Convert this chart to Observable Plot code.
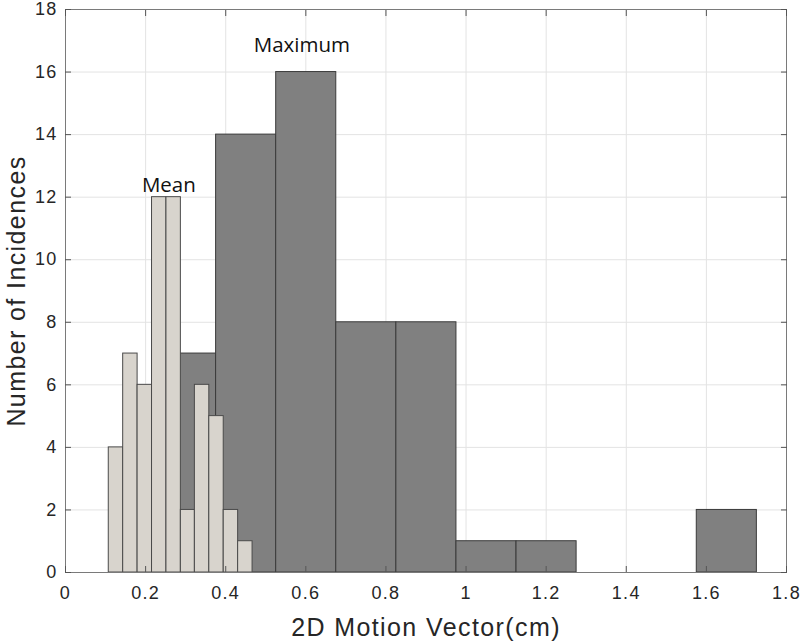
<!DOCTYPE html>
<html><head><meta charset="utf-8">
<script src="https://cdn.jsdelivr.net/npm/d3@7"></script>
<script src="https://cdn.jsdelivr.net/npm/@observablehq/plot@0.6"></script>
<style>
html,body{margin:0;padding:0;background:#fff;}
#chart svg{display:block;}
#chart g[aria-label="x-axis tick label"] text,
#chart g[aria-label="y-axis tick label"] text{font-size:18px !important;letter-spacing:1.3px;fill:#262626;}
#chart g[aria-label="x-axis label"] text,
#chart g[aria-label="y-axis label"] text{font-size:25px !important;letter-spacing:1.4px;fill:#262626;}
</style></head><body><div id="chart"></div>
<script>
// Maximum 2D motion vector histogram (dark bars)
const darkEdges = [0.226, 0.376, 0.526, 0.676, 0.826, 0.976, 1.126, 1.276, 1.426, 1.576, 1.726];
const darkCounts = [7, 14, 16, 8, 8, 1, 1, 0, 0, 2];
// Mean 2D motion vector histogram (light bars)
const lightEdges = [0.108, 0.144, 0.180, 0.216, 0.252, 0.288, 0.323, 0.359, 0.395, 0.431, 0.467];
const lightCounts = [4, 7, 6, 12, 12, 2, 6, 5, 2, 1];
// Axis ticks
const xTicks = [0, 0.2, 0.4, 0.6, 0.8, 1, 1.2, 1.4, 1.6, 1.8];
const yTicks = [0, 2, 4, 6, 8, 10, 12, 14, 16, 18];
// Annotations
const noteLabels = ["Mean", "Maximum"];
const noteX = [0.258, 0.590];
const noteY = [12.16, 16.63];

const darkBins = darkCounts.map((c, i) => ({x1: darkEdges[i], x2: darkEdges[i + 1], count: c})).filter(d => d.count > 0);
const lightBins = lightCounts.map((c, i) => ({x1: lightEdges[i], x2: lightEdges[i + 1], count: c})).filter(d => d.count > 0);
const notes = noteLabels.map((t, i) => ({text: t, x: noteX[i], y: noteY[i]}));
const fmt = d3.format("~g");

const chart = Plot.plot({
  width: 800,
  height: 643,
  marginLeft: 65,
  marginRight: 14,
  marginTop: 9,
  marginBottom: 71,
  style: {fontFamily: "'Liberation Sans', Arial, sans-serif", background: "#fff", color: "#262626"},
  x: {domain: [0, 1.8]},
  y: {domain: [0, 18]},
  marks: [
    Plot.gridX(xTicks, {stroke: "#e3e3e3", strokeOpacity: 1}),
    Plot.gridY(yTicks, {stroke: "#e3e3e3", strokeOpacity: 1}),
    Plot.rect(darkBins, {x1: "x1", x2: "x2", y1: 0, y2: "count", fill: "#808080", stroke: "#3a3a3a", strokeWidth: 1}),
    Plot.rect(lightBins, {x1: "x1", x2: "x2", y1: 0, y2: "count", fill: "#d8d4cd", stroke: "#4a4a4a", strokeWidth: 1}),
    Plot.text(notes, {x: "x", y: "y", text: "text", lineAnchor: "bottom", textAnchor: "middle", fontFamily: "'Open Sans', sans-serif", fontSize: 20.5, fill: "#111"}),
    Plot.frame({stroke: "#7a7a7a", strokeWidth: 1}),
    Plot.axisX(xTicks, {anchor: "bottom", tickSize: -6, tickFormat: () => "", label: null, stroke: "#555"}),
    Plot.axisX(xTicks, {anchor: "top", tickSize: -6, tickFormat: () => "", label: null, stroke: "#555"}),
    Plot.axisY(yTicks, {anchor: "left", tickSize: -6, tickFormat: () => "", label: null, stroke: "#555"}),
    Plot.axisY(yTicks, {anchor: "right", tickSize: -6, tickFormat: () => "", label: null, stroke: "#555"}),
    Plot.axisX(xTicks, {anchor: "bottom", tickSize: 0, tickPadding: 14, fontSize: 18, tickFormat: fmt, label: "2D Motion Vector(cm)", labelAnchor: "center", labelOffset: 63, labelArrow: false}),
    Plot.axisY(yTicks, {anchor: "left", tickSize: 0, tickPadding: 8, fontSize: 18, tickFormat: fmt, label: "Number of Incidences", labelAnchor: "center", labelOffset: 58, labelArrow: false})
  ]
});
document.getElementById("chart").appendChild(chart);
</script>
</body></html>
